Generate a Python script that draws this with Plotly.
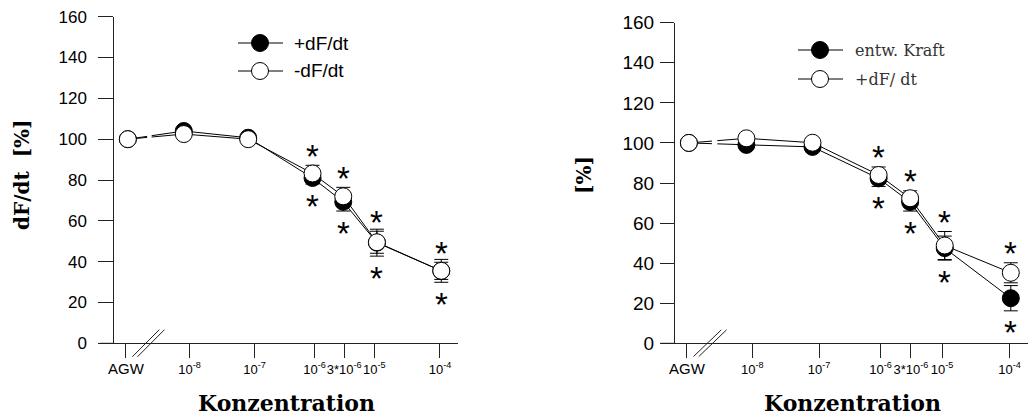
import math
import plotly.graph_objects as go

# Concentration steps; AGW (control) sits left of the axis break
conc_labels = ["<span style='font-size:15px'>AGW</span>", "10<sup>-8</sup>", "10<sup>-7</sup>",
               "10<sup>-6</sup>", "3*10<sup>-6</sup>", "10<sup>-5</sup>", "10<sup>-4</sup>"]
conc_pos = [-8.87, -8.0, -7.0, -6.0, math.log10(3e-6), -5.0, -4.0]
# tick marks of the concentration axis (slightly compressed scale)
tick_pos = [-8.90, -7.91, -6.90, -5.97, -5.51, -5.04, -4.02]

# Left panel: dF/dt in % of control
plus_dfdt_l = [100, 104.0, 100.7, 81.0, 69.3, 49.3, 35.5]
plus_dfdt_l_err = [0, 1.5, 1.0, 3.0, 4.5, 6.6, 5.6]
minus_dfdt_l = [100, 102.5, 100.0, 83.2, 72.0, 49.5, 35.5]
minus_dfdt_l_err = [0, 1.0, 1.0, 4.0, 4.4, 5.4, 4.2]

# Right panel: developed force and +dF/dt in % of control
kraft_r = [100, 99.0, 98.0, 82.3, 70.5, 47.5, 22.5]
kraft_r_err = [0, 1.5, 1.5, 4.0, 4.5, 6.0, 6.3]
plus_dfdt_r = [100, 102.3, 100.1, 84.0, 72.4, 48.8, 35.2]
plus_dfdt_r_err = [0, 1.0, 1.0, 4.0, 3.7, 7.0, 5.0]

# Concentrations with significant differences (index into conc_pos)
signif_idx = [3, 4, 5, 6]

W, H = 1028, 419
XR = [-9.08, -3.74]
YR = [0, 160]
AX = "#222222"
ARIAL = "Liberation Sans, Arial, sans-serif"
SERIF = "DejaVu Serif, serif"

panels = [
    dict(xa="x", ya="y", xdom=[114.3, 458.0], ydom=[343.3, 16.7], tick_font=17,
         ticklen=15, standoff=8,
         series=[(plus_dfdt_l, plus_dfdt_l_err, "black"),
                 (minus_dfdt_l, minus_dfdt_l_err, "white")],
         gap=[-8.57, -8.50]),
    dict(xa="x2", ya="y2", xdom=[675.0, 1028.0], ydom=[343.3, 22.7], tick_font=19,
         ticklen=14, standoff=2,
         series=[(kraft_r, kraft_r_err, "black"),
                 (plus_dfdt_r, plus_dfdt_r_err, "white")],
         gap=[-8.52, -8.44]),
]

fig = go.Figure()
shapes = []
annotations = []

for p in panels:
    # connecting lines first so every marker sits above both lines
    for vals, err, fill in p["series"]:
        fig.add_trace(go.Scatter(x=conc_pos, y=vals, mode="lines", xaxis=p["xa"], yaxis=p["ya"],
                                 line=dict(color="black", width=1), showlegend=False,
                                 hoverinfo="skip"))
    for vals, err, fill in p["series"]:
        fig.add_trace(go.Scatter(
            x=conc_pos, y=vals, mode="markers", xaxis=p["xa"], yaxis=p["ya"],
            marker=dict(size=17, color=fill, line=dict(color="black", width=1)),
            error_y=dict(type="data", array=err, visible=True, color="black",
                         thickness=1, width=7),
            showlegend=False, cliponaxis=False))

    # significance stars: above the white series, below the black series
    (b_vals, b_err, _), (w_vals, w_err, _) = p["series"]
    star_font = dict(family=ARIAL, size=33, color="black")
    for i in signif_idx:
        annotations.append(dict(x=conc_pos[i], y=w_vals[i] + w_err[i], xref=p["xa"], yref=p["ya"],
                                text="*", showarrow=False, yanchor="middle", yshift=9,
                                font=star_font))
        annotations.append(dict(x=conc_pos[i], y=b_vals[i] - b_err[i], xref=p["xa"], yref=p["ya"],
                                text="*", showarrow=False, yanchor="middle", yshift=-22,
                                font=star_font))

    xd = p["xa"] + " domain"
    yd = p["ya"] + " domain"
    pw = p["xdom"][1] - p["xdom"][0]

    def fx(v):
        return (v - XR[0]) / (XR[1] - XR[0])

    def fy(v):
        return (v - YR[0]) / (YR[1] - YR[0])

    # x-axis line continues a little to the left of the y axis
    shapes.append(dict(type="line", xref=xd, yref=yd, x0=-14.5 / pw, x1=0, y0=0, y1=0,
                       line=dict(color=AX, width=1)))
    # axis break marks
    for dx in (0.0, 0.08):
        shapes.append(dict(type="line", xref=xd, yref=yd,
                           x0=fx(-8.80 + dx), y0=fy(-6.6), x1=fx(-8.38 + dx), y1=fy(6.7),
                           line=dict(color=AX, width=1)))
    # interruption of the data line at the break
    shapes.append(dict(type="rect", xref=xd, yref=yd, x0=fx(p["gap"][0]), x1=fx(p["gap"][1]),
                       y0=fy(96), y1=fy(107), fillcolor="white", line=dict(width=0),
                       layer="above"))

# Legends drawn by hand
def legend_row(xc, yc, x_l, x_r, fill, text, tx, font):
    shapes.append(dict(type="line", xref="paper", yref="paper", x0=x_l / W, x1=x_r / W,
                       y0=1 - yc / H, y1=1 - yc / H, line=dict(color="black", width=1)))
    shapes.append(dict(type="circle", xref="paper", yref="paper", xsizemode="pixel",
                       ysizemode="pixel", xanchor=xc / W, yanchor=1 - yc / H,
                       x0=-8.5, x1=8.5, y0=-8.5, y1=8.5, fillcolor=fill,
                       line=dict(color="black", width=1)))
    annotations.append(dict(x=tx / W, y=1 - yc / H, xref="paper", yref="paper", text=text,
                            showarrow=False, xanchor="left", yanchor="middle", font=font))

legend_row(260, 43, 238, 283, "black", "+dF/dt", 292, dict(family=ARIAL, size=19, color="black"))
legend_row(260, 71, 238, 283, "white", "-dF/dt", 292, dict(family=ARIAL, size=19, color="black"))
legend_row(820, 50, 798, 843, "black", "entw. Kraft", 853, dict(family=SERIF, size=16, color="#333333"))
legend_row(820, 79, 798, 843, "white", "+dF/ dt", 853, dict(family=SERIF, size=16, color="#333333"))

# Axis titles
title_font = dict(family=SERIF, size=22, color="black", weight="bold")
annotations.append(dict(x=286 / W, y=1 - 403 / H, xref="paper", yref="paper", text="Konzentration",
                        showarrow=False, xanchor="center", yanchor="middle", font=title_font))
annotations.append(dict(x=852 / W, y=1 - 403 / H, xref="paper", yref="paper", text="Konzentration",
                        showarrow=False, xanchor="center", yanchor="middle", font=title_font))
annotations.append(dict(x=22 / W, y=1 - 175 / H, xref="paper", yref="paper", text="dF/dt  [%]",
                        showarrow=False, textangle=-90, xanchor="center", yanchor="middle",
                        font=dict(family=SERIF, size=20, color="black", weight="bold")))
annotations.append(dict(x=584 / W, y=1 - 175 / H, xref="paper", yref="paper", text="[%]",
                        showarrow=False, textangle=-90, xanchor="center", yanchor="middle",
                        font=dict(family=SERIF, size=20, color="black", weight="bold")))

layout = dict(template="none", width=W, height=H, margin=dict(l=0, r=0, t=0, b=0, pad=0),
              paper_bgcolor="white", plot_bgcolor="white", showlegend=False,
              shapes=shapes, annotations=annotations)

for k, p in enumerate(panels):
    sfx = "" if k == 0 else str(k + 1)
    layout["xaxis" + sfx] = dict(
        domain=[p["xdom"][0] / W, p["xdom"][1] / W], range=XR, anchor=p["ya"],
        automargin=False, showline=True, linecolor=AX, linewidth=1, showgrid=False,
        zeroline=False, ticks="outside", ticklen=14, tickcolor=AX, tickwidth=1,
        tickvals=tick_pos, ticktext=conc_labels, tickangle=0,
        tickfont=dict(family=ARIAL, size=13, color="black"), fixedrange=True)
    layout["yaxis" + sfx] = dict(
        domain=[1 - p["ydom"][0] / H, 1 - p["ydom"][1] / H], range=YR, anchor=p["xa"],
        automargin=False, showline=True, linecolor=AX, linewidth=1, showgrid=False,
        zeroline=False, ticks="outside", ticklen=p["ticklen"], tickcolor=AX,
        tickwidth=1, tickvals=list(range(0, 161, 20)), ticklabelstandoff=p["standoff"],
        tickfont=dict(family=ARIAL, size=p["tick_font"], color="black"), fixedrange=True)

fig.update_layout(**layout)
fig.write_html("out.html")
